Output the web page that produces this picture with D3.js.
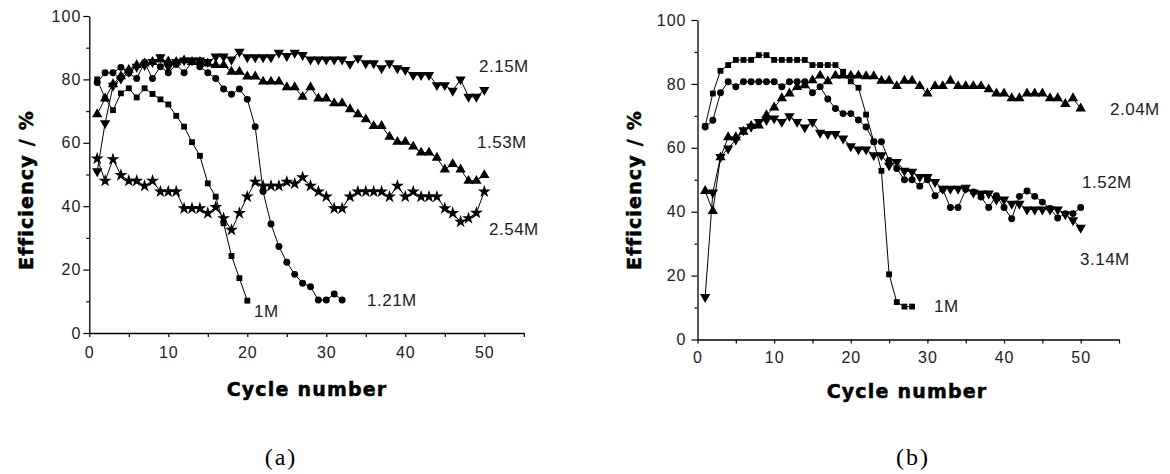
<!DOCTYPE html>
<html>
<head>
<meta charset="utf-8">
<script src="https://cdn.jsdelivr.net/npm/d3@7"></script>
<style>
  html, body { margin: 0; padding: 0; background: #fff; }
  svg { display: block; }
</style>
</head>
<body>
<svg id="chart" width="1170" height="474"></svg>
<script>
// ---------------- DATA ----------------
const xTicks = [0, 10, 20, 30, 40, 50];
const yTicks = [0, 20, 40, 60, 80, 100];
const xMinorTicks = [5, 15, 25, 35, 45, 55];
const yMinorTicks = [10, 30, 50, 70, 90];
const xTitle = "Cycle number";
const yTitle = "Efficiency / %";

// Panel (a)
const a_1M   = [80, 74, 70.3, 75.6, 77.2, 74.3, 77.2, 75.4, 73.7, 72.1, 68.5, 65.1, 60.2, 55.9, 47.2, 43, 34.6, 24.3, 17.3, 10.2];
const a_121M = [79, 82.1, 82.1, 83.8, 82, 80.3, 85.3, 80.3, 84, 82.1, 84.7, 82.1, 85.6, 84, 82.1, 80.3, 77, 75.3, 77, 73.7,
                65.1, 44.6, 34.4, 27.3, 22.3, 18.5, 15.7, 14.6, 10.4, 10.4, 12.3, 10.4];
const a_153M = [69, 74, 78.5, 81, 83, 84.5, 85, 85.5, 86.3, 85.7, 85.5, 86, 85.5, 85.5, 85, 84.5, 84.5, 82.4, 82.4, 80.9,
                80.9, 79.3, 79.3, 79.3, 77.5, 77.5, 74.5, 77.5, 74, 74, 72.5, 72.5, 70.6, 69, 67.4, 65.3, 65.3, 61.9, 60.3, 60.3,
                58.8, 56.9, 56.9, 55.3, 51.6, 53.3, 51.6, 48, 48, 49.8];
const a_215M = [51, 66.2, 78, 80.3, 82.4, 84, 84.5, 85.5, 87, 84, 85.5, 86, 86, 86, 85.5, 87.2, 87.2, 86.3, 88.7, 87,
                87, 87, 87, 88.4, 87.4, 88.4, 87.7, 86.3, 86.3, 86.3, 86.3, 86.3, 84.9, 86.7, 85.1, 85.1, 83.5, 85.1, 83.5, 83,
                81.4, 81.4, 81.4, 78.2, 78.2, 76.4, 80, 74.5, 74.5, 76.7];
const a_254M = [55, 48, 54.8, 49.8, 48, 48, 46.4, 48, 44.6, 44.6, 44.6, 39.3, 39.3, 39.3, 37.8, 39.7, 36.2, 32.5, 37.8, 43,
                47.7, 46.4, 46.4, 46.4, 47.7, 47.1, 49.1, 46.4, 44.6, 43, 39.3, 39.3, 43, 44.6, 44.6, 44.6, 44.6, 43, 46.4, 43,
                44.6, 43, 43, 43, 39.3, 37.8, 35.1, 36.2, 37.9, 44.6];

// Panel (b)
const b_1M   = [66.8, 77, 84.1, 85.9, 87.5, 87.5, 87.5, 89, 89, 87.5, 87.5, 87.5, 87.5, 87.5, 85.9, 85.9, 85.9, 85.9, 83.8, 80.8,
                78.8, 70.4, 61.9, 52.8, 20.4, 11.7, 10.3, 10.3];
const b_152M = [66.5, 68.6, 77.2, 80.7, 79.1, 80.7, 80.7, 80.7, 80.7, 80.7, 79.1, 80.7, 80.7, 80.7, 77.2, 79.1, 75.3, 72.3, 70.7, 70.7,
                68.7, 66.5, 61.9, 61.9, 56, 53.5, 50, 50, 48, 50, 45, 47, 41.3, 41.3, 47, 46.2, 44.6, 41.3, 45, 41.3,
                37.8, 44.8, 46.5, 44.8, 43, 41, 38, 39.4, 39.4, 41.3];
const b_204M = [46.5, 40.2, 57, 63.3, 63.3, 65, 66.8, 67, 70.2, 72.6, 75.5, 77, 79, 79.6, 81.1, 82.6, 80.8, 82.6, 82.6, 82.6,
                82.6, 82.4, 82.4, 81, 81, 79.3, 81, 81, 79.3, 77, 79.3, 79.3, 81, 79.3, 79.3, 79.3, 79.3, 78.3, 77, 77,
                75.5, 75.5, 77, 77, 77, 75.5, 75.5, 73.7, 75.5, 72.3];
const b_314M = [13.3, 46, 57.1, 59.8, 62.6, 65.5, 66.6, 68.1, 68.7, 69.2, 68.1, 69.9, 68.1, 66.4, 68.1, 64.7, 64.3, 64.3, 62.9, 60.5,
                59.5, 59.5, 57.7, 57.7, 54.5, 55.6, 52.8, 52.5, 50.9, 50.9, 49.3, 47.2, 47.2, 47.2, 47.5, 46, 45.7, 45.7, 43.8, 43.8,
                42.5, 42.5, 40.7, 40.7, 40.7, 40.7, 40.7, 39.2, 37.3, 35];

const seriesA = [
  {label: "1M",    values: a_1M,   symbol: "square"},
  {label: "1.21M", values: a_121M, symbol: "circle"},
  {label: "1.53M", values: a_153M, symbol: "triUp"},
  {label: "2.15M", values: a_215M, symbol: "triDown"},
  {label: "2.54M", values: a_254M, symbol: "star"}
];
const seriesB = [
  {label: "1M",    values: b_1M,   symbol: "square"},
  {label: "1.52M", values: b_152M, symbol: "circle"},
  {label: "2.04M", values: b_204M, symbol: "triUp"},
  {label: "3.14M", values: b_314M, symbol: "triDown"}
];

// ---------------- LAYOUT ----------------
const panels = [
  {
    series: seriesA, caption: "(a)",
    x0: 89.3, x1: 523.8, yBottom: 333, yTop: 16,
    yPad: 2, xPad: 10,
    yTitlePos: [33, 190], xTitlePos: [307, 396], captionPos: [281, 465],
    labelPos: {"1M": [254, 317], "1.21M": [367, 306], "1.53M": [477, 148], "2.15M": [479, 72], "2.54M": [489, 235]}
  },
  {
    series: seriesB, caption: "(b)",
    x0: 697.5, x1: 1119, yBottom: 339.5, yTop: 20,
    yPad: 5, xPad: 8,
    yTitlePos: [641, 190], xTitlePos: [907, 398], captionPos: [913, 465],
    labelPos: {"1M": [934, 312], "1.52M": [1082, 188], "2.04M": [1110, 115], "3.14M": [1080, 265]}
  }
];

const svg = d3.select("#chart");

const symbolTypes = {
  square: {type: d3.symbolSquare, size: 34, rot: 0},
  circle: {type: d3.symbolCircle, size: 38, rot: 0},
  triUp: {type: d3.symbolTriangle, size: 46, rot: 0},
  triDown: {type: d3.symbolTriangle, size: 46, rot: 180},
  star: {type: d3.symbolStar, size: 52, rot: 0}
};

panels.forEach(p => {
  const x = d3.scaleLinear().domain([0, 55]).range([p.x0, p.x1]);
  const y = d3.scaleLinear().domain([0, 100]).range([p.yBottom, p.yTop]);
  const g = svg.append("g");

  // minor ticks
  g.append("g").attr("transform", `translate(0,${p.yBottom})`)
    .call(d3.axisBottom(x).tickValues(xMinorTicks).tickSize(4).tickFormat(""))
    .call(s => s.select(".domain").remove());
  g.append("g").attr("transform", `translate(${p.x0},0)`)
    .call(d3.axisLeft(y).tickValues(yMinorTicks).tickSize(3).tickFormat(""))
    .call(s => s.select(".domain").remove());

  // major axes
  const xa = g.append("g").attr("transform", `translate(0,${p.yBottom})`)
    .call(d3.axisBottom(x).tickValues(xTicks).tickSize(4).tickSizeOuter(0).tickPadding(p.xPad).tickFormat(d3.format("d")));
  const ya = g.append("g").attr("transform", `translate(${p.x0},0)`)
    .call(d3.axisLeft(y).tickValues(yTicks).tickSize(6).tickSizeOuter(0).tickPadding(p.yPad).tickFormat(d3.format("d")));

  [xa, ya].forEach(a => {
    a.select(".domain").attr("stroke", "#000").attr("stroke-width", 1.3);
    a.selectAll("text").attr("font-family", "'Liberation Sans', Arial, sans-serif")
      .attr("font-size", 16).attr("fill", "#222").attr("letter-spacing", 1);
  });
  g.selectAll(".tick line").attr("stroke", "#000").attr("stroke-width", 1.2);

  // axis titles
  g.append("text")
    .attr("transform", `translate(${p.yTitlePos[0]},${p.yTitlePos[1]}) rotate(-90)`)
    .attr("text-anchor", "middle")
    .attr("font-family", "'DejaVu Sans', sans-serif").attr("font-weight", "bold")
    .attr("font-size", 19).attr("letter-spacing", 1.2)
    .attr("stroke", "#000").attr("stroke-width", 0.5)
    .text(yTitle);
  g.append("text")
    .attr("x", p.xTitlePos[0]).attr("y", p.xTitlePos[1])
    .attr("text-anchor", "middle")
    .attr("font-family", "'DejaVu Sans', sans-serif").attr("font-weight", "bold")
    .attr("font-size", 19).attr("letter-spacing", 1.2)
    .attr("stroke", "#000").attr("stroke-width", 0.5)
    .text(xTitle);

  // caption
  g.append("text")
    .attr("x", p.captionPos[0]).attr("y", p.captionPos[1])
    .attr("text-anchor", "middle")
    .attr("font-family", "'Liberation Serif', 'Times New Roman', serif")
    .attr("font-size", 24).attr("letter-spacing", 2)
    .text(p.caption);

  // series
  const line = d3.line().x((d, i) => x(i + 1)).y(d => y(d));
  p.series.forEach(s => {
    g.append("path").datum(s.values)
      .attr("d", line).attr("fill", "none")
      .attr("stroke", "#000").attr("stroke-width", 1);
    const st = symbolTypes[s.symbol];
    const sym = d3.symbol().type(st.type).size(st.size);
    g.selectAll(null).data(s.values).enter().append("path")
      .attr("d", sym)
      .attr("transform", (d, i) => `translate(${x(i + 1)},${y(d)}) rotate(${st.rot})`)
      .attr("fill", "#000");
    const lp = p.labelPos[s.label];
    g.append("text").attr("x", lp[0]).attr("y", lp[1])
      .attr("font-family", "'Liberation Sans', Arial, sans-serif")
      .attr("font-size", 17).attr("fill", "#222").attr("letter-spacing", 0.5)
      .text(s.label);
  });
});
</script>
</body>
</html>
